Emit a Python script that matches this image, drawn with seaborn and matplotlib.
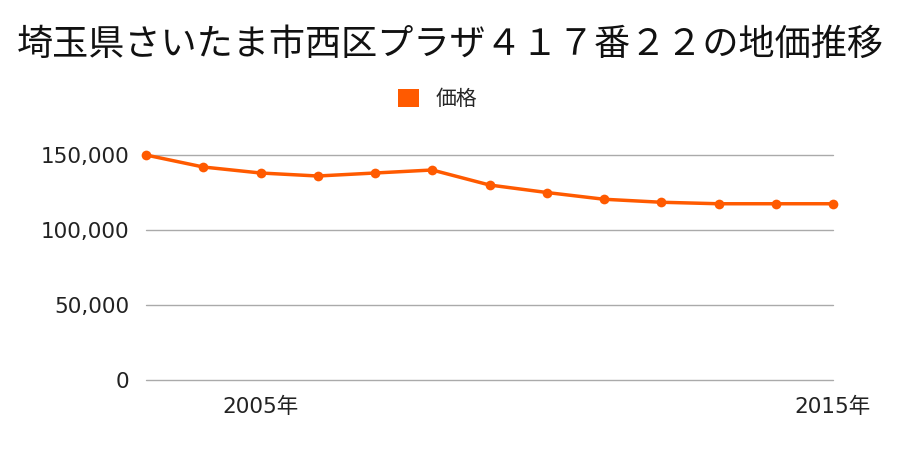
import matplotlib
matplotlib.use("Agg")
import matplotlib.pyplot as plt
import seaborn as sns
import pandas as pd
from matplotlib.patches import Patch

years = [2003, 2004, 2005, 2006, 2007, 2008, 2009, 2010, 2011, 2012, 2013, 2014, 2015]
prices = [150000, 142000, 138000, 136000, 138000, 140000, 130000, 125000, 120500, 118500, 117500, 117500, 117500]
xtick_years = [2005, 2015]
xtick_labels = ["2005年", "2015年"]
ytick_values = [0, 50000, 100000, 150000]
title = "埼玉県さいたま市西区プラザ４１７番２２の地価推移"
series_name = "価格"
color = "#ff5a00"

sns.set_theme(style="white")
plt.rcParams['font.family'] = ['Noto Sans CJK JP', 'DejaVu Sans']
num_font = ['DejaVu Sans', 'Noto Sans CJK JP']

df = pd.DataFrame({"year": years, "price": prices})

fig = plt.figure(figsize=(9, 4.5), dpi=100)
ax = fig.add_axes([146/900, 1-380/450, 687/900, 225/450])
sns.lineplot(data=df, x="year", y="price", ax=ax, color=color, linewidth=2.5,
             marker="o", markersize=7, markeredgewidth=0, clip_on=False, zorder=3)

ax.set_xlim(2003, 2015)
ax.set_ylim(0, 150000)
ax.set_yticks(ytick_values)
ax.set_yticklabels([f"{v:,}" for v in ytick_values], fontsize=15.5, color="#222222", family=num_font)
ax.set_xticks(xtick_years)
ax.set_xticklabels(xtick_labels, fontsize=15.5, color="#222222", family=num_font)
ax.set_xlabel("")
ax.set_ylabel("")
ax.grid(axis="y", color="#aaaaaa", linewidth=1)
ax.grid(axis="x", visible=False)
for gl in ax.get_ygridlines():
    gl.set_clip_on(False)
for s in ax.spines.values():
    s.set_visible(False)
ax.tick_params(axis="y", length=0, pad=12)
ax.tick_params(axis="x", length=0, pad=12)

fig.text(0.5, 1-45/450, title, ha="center", va="center", fontsize=26, color="#111111")
handles = [Patch(facecolor=color, edgecolor="none", label=series_name)]
fig.legend(handles=handles, loc="center", bbox_to_anchor=(0.486, 1-99/450), frameon=False,
           fontsize=15, handlelength=1.0, handleheight=1.0, handletextpad=0.8)

fig.savefig("out.png", dpi=100)
